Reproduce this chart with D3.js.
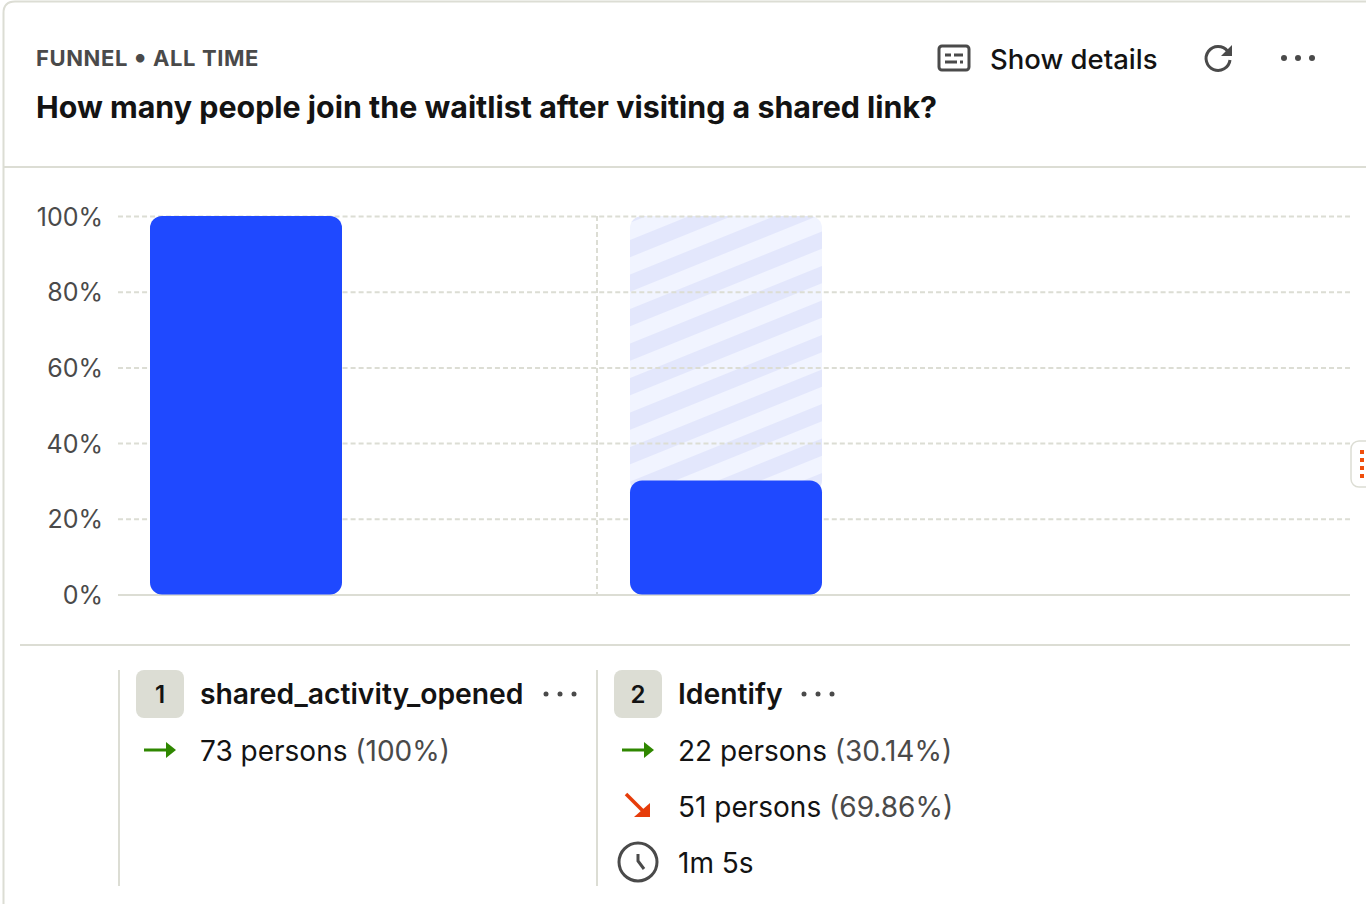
<!DOCTYPE html>
<html>
<head>
<meta charset="utf-8">
<script src="https://cdn.jsdelivr.net/npm/d3@7/dist/d3.min.js"></script>
<style>
  body { margin: 0; background: #fff; }
  svg { display: block; }
  text { font-family: Inter, "Noto Sans", sans-serif; }
</style>
</head>
<body>
<svg id="chart" width="1366" height="904"></svg>
<script>
const kickerParts = ['FUNNEL ', '•', ' ALL TIME'];
const title = 'How many people join the waitlist after visiting a shared link?';
const stepNames = ['shared_activity_opened', 'Identify'];
const conversionRates = [100, 30.14];
const convertedCounts = [73, 22];
const convertedLabels = ['100%', '30.14%'];
const droppedCounts = [null, 51];
const droppedLabels = [null, '69.86%'];
const medianTimes = [null, '1m 5s'];
const yTicks = [0, 20, 40, 60, 80, 100];

const border = '#dcddd4';
const ink = '#131313';
const muted = '#4a4a4a';
const blue = '#1f49ff';

const svg = d3.select('#chart');

const x = d3.scaleBand()
  .domain(stepNames)
  .range([118, 1078]);

const y = d3.scaleLinear()
  .domain([0, 100])
  .range([594.5, 216]);

const barInset = 32;
const barWidth = 192;

// Stripes behind the second bar
const defs = svg.append('defs');
const stripes = defs.append('pattern')
  .attr('id', 'dropoff')
  .attr('patternUnits', 'userSpaceOnUse')
  .attr('width', 32)
  .attr('height', 32)
  .attr('patternTransform', 'translate(630,240) rotate(-22)');
stripes.append('rect').attr('width', 32).attr('height', 32).attr('fill', '#f1f4ff');
stripes.append('rect').attr('width', 32).attr('height', 16).attr('fill', '#e3e7fc');

// Card outline
svg.append('path')
  .attr('d', 'M3.5,904 V13 Q3.5,1.5 15,1.5 H1366')
  .attr('fill', 'none')
  .attr('stroke', border)
  .attr('stroke-width', 2);

svg.append('line')
  .attr('x1', 4).attr('x2', 1366)
  .attr('y1', 167).attr('y2', 167)
  .attr('stroke', border)
  .attr('stroke-width', 2);

svg.append('line')
  .attr('x1', 20).attr('x2', 1350)
  .attr('y1', 645).attr('y2', 645)
  .attr('stroke', border)
  .attr('stroke-width', 2);

// Header
svg.append('text')
  .attr('x', 36).attr('y', 66)
  .attr('font-size', 22)
  .attr('font-weight', 700)
  .attr('letter-spacing', 0.6)
  .attr('fill', muted)
  .selectAll('tspan')
  .data(kickerParts)
  .join('tspan')
  .attr('font-size', d => d === '•' ? 27 : 22)
  .text(d => d);

svg.append('text')
  .attr('x', 36).attr('y', 118)
  .attr('font-size', 30.4)
  .attr('font-weight', 700)
  .attr('fill', ink)
  .text(title);

svg.append('text')
  .attr('x', 990).attr('y', 69)
  .attr('font-size', 27.5)
  .attr('font-weight', 500)
  .attr('fill', ink)
  .text('Show details');

const drawDots = (cx, cy, r) => {
  svg.selectAll(null)
    .data([-14, 0, 14])
    .join('circle')
    .attr('cx', d => cx + d)
    .attr('cy', cy)
    .attr('r', r)
    .attr('fill', muted);
};

// Header icons
const caption = svg.append('g').attr('fill', 'none').attr('stroke', muted).attr('stroke-width', 3);
caption.append('rect').attr('x', 939).attr('y', 46).attr('width', 30).attr('height', 24).attr('rx', 3);
caption.append('path').attr('d', 'M945,55 H951 M954,55 H963 M945,62 H957 M960,62 H963');

svg.append('path')
  .attr('d', 'M1227.5,51 A12,12 0 1 0 1230,60')
  .attr('fill', 'none')
  .attr('stroke', muted)
  .attr('stroke-width', 3);
svg.append('path')
  .attr('d', 'M1232,45 V56 H1221 Z')
  .attr('fill', muted);

drawDots(1298, 58, 3);

// Plot: stripes, then grid, then solid bars
svg.append('rect')
  .attr('x', x(stepNames[1]) + barInset)
  .attr('y', y(100))
  .attr('width', barWidth)
  .attr('height', y(conversionRates[1]) - y(100) + 12)
  .attr('rx', 12)
  .attr('fill', 'url(#dropoff)');

const yAxis = svg.append('g')
  .attr('transform', 'translate(118,0)')
  .call(d3.axisLeft(y)
    .tickValues(yTicks)
    .tickFormat(d => `${d}%`)
    .tickSize(-1232)
    .tickPadding(15));

yAxis.select('.domain').remove();
yAxis.selectAll('line')
  .attr('stroke', border)
  .attr('stroke-width', 2)
  .attr('stroke-dasharray', d => d === 0 ? null : '5 3.02');
yAxis.selectAll('text')
  .attr('font-size', 25)
  .attr('fill', muted)
  .attr('dy', '0.36em')
  .style('font-family', 'Inter, "Noto Sans", sans-serif');

svg.append('line')
  .attr('x1', x(stepNames[1]) - 1).attr('x2', x(stepNames[1]) - 1)
  .attr('y1', y(100)).attr('y2', y(0))
  .attr('stroke', border)
  .attr('stroke-width', 2)
  .attr('stroke-dasharray', '5 3');

svg.selectAll('.bar')
  .data(stepNames)
  .join('rect')
  .attr('class', 'bar')
  .attr('x', d => x(d) + barInset)
  .attr('y', (d, i) => y(conversionRates[i]))
  .attr('width', barWidth)
  .attr('height', (d, i) => y(0) - y(conversionRates[i]))
  .attr('rx', 12)
  .attr('fill', blue);

// Legend under the plot
const rowY = [750, 806, 862];

const valueText = (px, py, main, note) => {
  const t = svg.append('text')
    .attr('x', px).attr('y', py + 10.5)
    .attr('font-size', 28)
    .attr('fill', ink)
    .text(main);
  if (note) {
    t.append('tspan').attr('fill', muted).text(` (${note})`);
  }
};

const stepDotsX = [560, 818];

stepNames.forEach((name, i) => {
  const left = x(name);

  svg.append('line')
    .attr('x1', left + (i ? -1 : 1)).attr('x2', left + (i ? -1 : 1))
    .attr('y1', 670).attr('y2', 886)
    .attr('stroke', border)
    .attr('stroke-width', 2);

  const badgeX = left + (i ? 16 : 18);
  svg.append('rect')
    .attr('x', badgeX).attr('y', 670)
    .attr('width', 48).attr('height', 48)
    .attr('rx', 8)
    .attr('fill', border);
  svg.append('text')
    .attr('x', badgeX + 24).attr('y', 703)
    .attr('text-anchor', 'middle')
    .attr('font-size', 24)
    .attr('font-weight', 600)
    .attr('fill', ink)
    .text(i + 1);

  const textX = badgeX + 64;
  svg.append('text')
    .attr('x', textX).attr('y', 704)
    .attr('font-size', 28.3)
    .attr('font-weight', 600)
    .attr('fill', ink)
    .text(name);
  drawDots(stepDotsX[i], 694, 2.5);

  // Converted row
  svg.append('path')
    .attr('d', `M${badgeX + 8},${rowY[0]} H${badgeX + 30}`)
    .attr('stroke', '#2f8700')
    .attr('stroke-width', 3);
  svg.append('path')
    .attr('d', `M${badgeX + 30},${rowY[0] - 8} L${badgeX + 40},${rowY[0]} L${badgeX + 30},${rowY[0] + 8} Z`)
    .attr('fill', '#2f8700');
  valueText(textX, rowY[0], `${convertedCounts[i]} persons`, convertedLabels[i]);

  // Dropped row
  if (droppedCounts[i] !== null) {
    svg.append('path')
      .attr('d', `M${badgeX + 12},${rowY[1] - 12} L${badgeX + 30},${rowY[1] + 6}`)
      .attr('stroke', '#e63c0a')
      .attr('stroke-width', 3.5);
    svg.append('path')
      .attr('d', `M${badgeX + 36},${rowY[1] + 11} H${badgeX + 20} L${badgeX + 36},${rowY[1] - 3} Z`)
      .attr('fill', '#e63c0a');
    valueText(textX, rowY[1], `${droppedCounts[i]} persons`, droppedLabels[i]);
  }

  // Median time row
  if (medianTimes[i] !== null) {
    const clock = svg.append('g')
      .attr('transform', `translate(${badgeX + 24},${rowY[2]})`)
      .attr('fill', 'none')
      .attr('stroke', muted)
      .attr('stroke-width', 3);
    clock.append('circle').attr('r', 19);
    clock.append('path').attr('d', 'M0,-8 V-1 L6,7');
    valueText(textX, rowY[2], medianTimes[i]);
  }
});

// Resize handle at the right edge
svg.append('rect')
  .attr('x', 1351).attr('y', 441)
  .attr('width', 40).attr('height', 46)
  .attr('rx', 8)
  .attr('fill', '#fff')
  .attr('stroke', border)
  .attr('stroke-width', 1.5);

svg.selectAll('.grip')
  .data([450, 458, 466, 474])
  .join('rect')
  .attr('class', 'grip')
  .attr('x', 1360)
  .attr('y', d => d)
  .attr('width', 4)
  .attr('height', 4)
  .attr('fill', '#f04e0b');
</script>
</body>
</html>
